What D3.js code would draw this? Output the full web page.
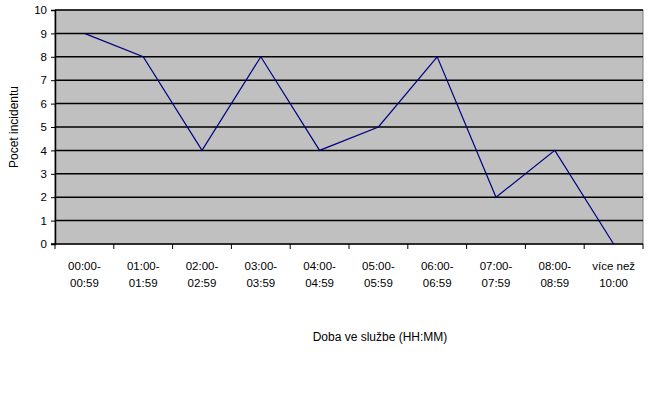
<!DOCTYPE html>
<html><head><meta charset="utf-8">
<script src="https://cdn.jsdelivr.net/npm/d3@7"></script>
<style>body{margin:0;background:#fff}svg{display:block}text{font-family:"Liberation Sans",Arial,sans-serif;fill:#000}</style>
</head><body><svg id="c" width="650" height="403"></svg>
<script>
const categories = [["00:00-","00:59"],["01:00-","01:59"],["02:00-","02:59"],["03:00-","03:59"],["04:00-","04:59"],["05:00-","05:59"],["06:00-","06:59"],["07:00-","07:59"],["08:00-","08:59"],["více než","10:00"]];
const values = [9,8,4,8,4,5,8,2,4,0];
const yTicks = [0,1,2,3,4,5,6,7,8,9,10];
const yTitle = "Pocet incidentu";
const xTitle = "Doba ve službe (HH:MM)";

const svg = d3.select("#c");
const L=55, R=643, T=10, B=244;
const x = d3.scaleBand().domain(d3.range(categories.length)).range([L,R]);
const y = d3.scaleLinear().domain([0,10]).range([B,T]);

svg.append("rect").attr("x",L).attr("y",T).attr("width",R-L).attr("height",B-T).attr("fill","#c0c0c0").attr("stroke","#808080").attr("stroke-width",1);
svg.append("g").selectAll("line").data(yTicks.filter(d=>d>0)).join("line")
  .attr("x1",L).attr("x2",R).attr("y1",d=>y(d)).attr("y2",d=>y(d)).attr("stroke","#000").attr("stroke-width",1.5);

// y axis
const ya = svg.append("g").attr("transform",`translate(${L},0)`).call(d3.axisLeft(y).tickValues(yTicks).tickSize(4).tickPadding(4));
ya.select(".domain").attr("stroke","#000").attr("stroke-width",1.5);
ya.selectAll("text").attr("font-size",11.5);
// x axis
const xa = svg.append("g").attr("transform",`translate(0,${B})`);
xa.append("line").attr("x1",L-4).attr("x2",R).attr("y1",0).attr("y2",0).attr("stroke","#000").attr("stroke-width",1.5);
const bounds = d3.range(categories.length+1).map(i=> i<categories.length ? x(i) : x(i-1)+x.bandwidth());
xa.selectAll("line.t").data(bounds).join("line").attr("class","t").attr("x1",d=>d).attr("x2",d=>d).attr("y1",0).attr("y2",5).attr("stroke","#000");
const lbl = xa.selectAll("text.l").data(categories).join("text").attr("class","l")
  .attr("text-anchor","middle").attr("font-size",11.5).attr("transform",(d,i)=>`translate(${x(i)+x.bandwidth()/2},0)`);
lbl.append("tspan").attr("x",0).attr("y",26).text(d=>d[0]);
lbl.append("tspan").attr("x",0).attr("y",43).text(d=>d[1]);

const line = d3.line().x((d,i)=>x(i)+x.bandwidth()/2).y(d=>y(d));
svg.append("path").datum(values).attr("d",line).attr("fill","none").attr("stroke","#000080").attr("stroke-width",1.2);

svg.append("text").attr("transform",`translate(18,${(T+B)/2}) rotate(-90)`).attr("text-anchor","middle").attr("font-size",12).text(yTitle);
svg.append("text").attr("x",380).attr("y",341).attr("text-anchor","middle").attr("font-size",12).text(xTitle);
</script></body></html>
